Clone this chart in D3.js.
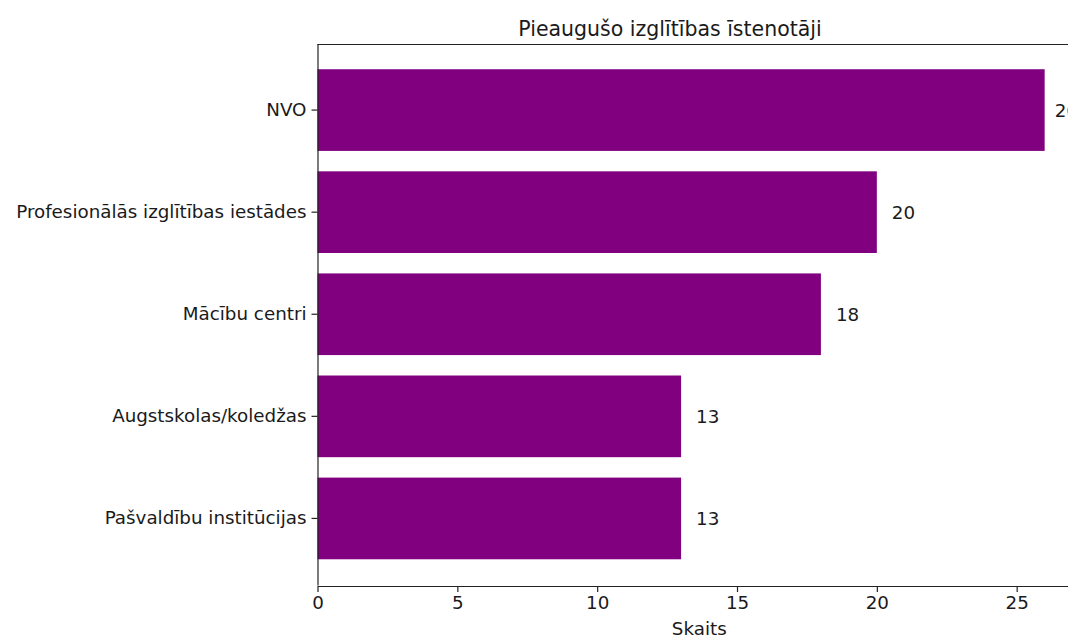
<!DOCTYPE html>
<html>
<head>
<meta charset="utf-8">
<script src="https://cdn.jsdelivr.net/npm/d3@7"></script>
<style>
  html, body { margin: 0; padding: 0; background: #fff; }
  svg { display: block; }
  text { font-family: "DejaVu Sans", sans-serif; fill: #1a1a1a; }
</style>
</head>
<body>
<svg id="chart" width="1068" height="638"></svg>
<script>
const categories = ["NVO", "Profesionālās izglītības iestādes", "Mācību centri", "Augstskolas/koledžas", "Pašvaldību institūcijas"];
const values = [26, 20, 18, 13, 13];
const xTicks = [0, 5, 10, 15, 20, 25];
const titleText = "Pieaugušo izglītības īstenotāji";
const xLabelText = "Skaits";

(function () {
const svg = d3.select("#chart");
const plotLeft = 317.5, plotRight = 1081, plotTop = 44.5, plotBottom = 586;
const fs = 18.3;

const x = d3.scaleLinear().domain([0, 27.3]).range([plotLeft, plotRight]);
const y = d3.scaleBand().domain(categories).range([plotTop, plotBottom]).paddingInner(0.2).paddingOuter(0.252);

svg.append("rect").attr("width", 1068).attr("height", 638).attr("fill", "#fff");

// bars
svg.append("g").selectAll("rect")
  .data(categories)
  .join("rect")
  .attr("x", x(0))
  .attr("y", d => y(d) - 1)
  .attr("width", (d, i) => x(values[i]) - x(0))
  .attr("height", y.bandwidth())
  .attr("fill", "#800080");

// value labels
svg.append("g").selectAll("text")
  .data(categories)
  .join("text")
  .attr("x", (d, i) => x(values[i]) + (values[i] > 25 ? 10 : 15))
  .attr("y", d => y(d) + y.bandwidth() / 2 - 1)
  .attr("dy", "0.36em")
  .attr("font-size", fs)
  .text((d, i) => values[i]);

// axes
const xAxis = d3.axisBottom(x).tickValues(xTicks).tickSize(6).tickPadding(4).tickSizeOuter(0);
const gx = svg.append("g").attr("transform", `translate(0,${plotBottom})`).call(xAxis);
gx.select(".domain").attr("stroke", "#222").attr("stroke-width", 1.2);
gx.selectAll(".tick line").attr("stroke", "#222").attr("stroke-width", 1.2);
gx.selectAll(".tick text").attr("font-size", fs).attr("font-family", "DejaVu Sans").attr("fill", "#1a1a1a");

const yAxis = d3.axisLeft(y).tickSize(6).tickPadding(5).tickSizeOuter(0);
const gy = svg.append("g").attr("transform", `translate(${plotLeft},-1)`).call(yAxis);
gy.select(".domain").attr("stroke", "#222").attr("stroke-width", 1.2);
gy.selectAll(".tick line").attr("stroke", "#222").attr("stroke-width", 1.2);
gy.selectAll(".tick text").attr("font-size", fs).attr("font-family", "DejaVu Sans").attr("fill", "#1a1a1a");

// top spine
svg.append("line").attr("x1", plotLeft).attr("x2", plotRight).attr("y1", plotTop).attr("y2", plotTop)
  .attr("stroke", "#222").attr("stroke-width", 1.2);
// right spine
svg.append("line").attr("x1", plotRight).attr("x2", plotRight).attr("y1", plotTop).attr("y2", plotBottom)
  .attr("stroke", "#222").attr("stroke-width", 1.2);

// title
svg.append("text").attr("x", 670).attr("y", 35.5).attr("text-anchor", "middle")
  .attr("font-size", 20.5).text(titleText);

// x label
svg.append("text").attr("x", (plotLeft + plotRight) / 2).attr("y", 635).attr("text-anchor", "middle")
  .attr("font-size", fs).text(xLabelText);
})();
</script>
</body>
</html>
